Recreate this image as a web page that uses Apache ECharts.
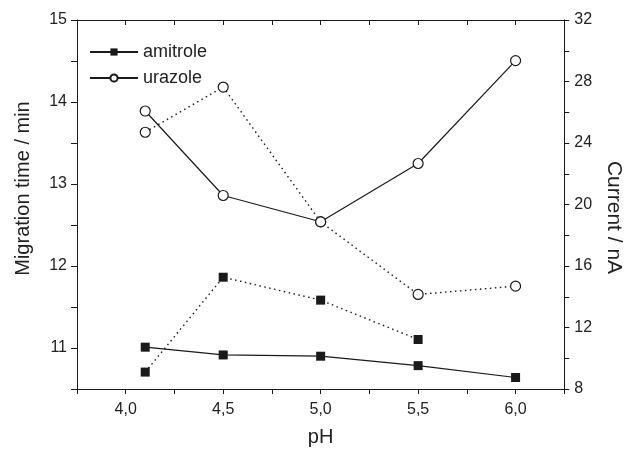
<!DOCTYPE html>
<html lang="en">
<head>
    <meta charset="UTF-8">
    <title>pH</title>
    <script src="https://cdn.jsdelivr.net/npm/echarts@6/dist/echarts.min.js"></script>
</head>
<body style="margin:0">
    <div id="main" style="width:632px;height:452px;"></div>
</body>
<script>

    // pH values
    var phList = [4.1, 4.5, 5.0, 5.5, 6.0];
    // migration time / min (solid lines, left axis)
    var amitroleTime = [11.01, 10.915, 10.90, 10.785, 10.64];
    var urazoleTime = [13.89, 12.86, 12.54, 13.25, 14.505];
    // current / nA (dotted lines, right axis)
    var amitroleCurrent = [9.1, 15.27, 13.78, 11.22];
    var urazoleCurrent = [24.7, 27.64, 18.87, 14.15, 14.69];

    function pairs(ys) {
        var out = [];
        for (var i = 0; i < ys.length; i++) {
            out.push([phList[i], ys[i]]);
        }
        return out;
    }

    function isStep(v, s) {
        return Math.abs(v / s - Math.round(v / s)) < 1e-6;
    }

    var ink = '#1a1a1a';
    var txt = '#222';
    var font = 'Liberation Sans, Arial, sans-serif';

    var myChart = echarts.init(document.getElementById('main'));

    var option = {
        animation: false,
        backgroundColor: '#fff',
        textStyle: {fontFamily: font, color: txt},
        grid: {left: 77, right: 58, top: 20, bottom: 61},
        legend: {
            data: ['amitrole', 'urazole'],
            orient: 'vertical',
            left: 84,
            top: 38,
            itemWidth: 48,
            itemHeight: 9,
            itemGap: 8,
            textStyle: {fontSize: 18, color: txt, fontFamily: font}
        },
        xAxis: [
            {
                type: 'value',
                min: 3.75,
                max: 6.25,
                interval: 0.25,
                name: 'pH',
                nameLocation: 'middle',
                nameGap: 38,
                nameTextStyle: {fontSize: 20, color: txt},
                splitLine: {show: false},
                axisLine: {lineStyle: {color: ink, width: 1}},
                axisTick: {length: 5, lineStyle: {color: ink}},
                axisLabel: {
                    fontSize: 16,
                    color: txt,
                    margin: 13,
                    formatter: function (v) {
                        return isStep(v, 0.5) ? v.toFixed(1).replace('.', ',') : '';
                    }
                }
            },
            {
                type: 'value',
                position: 'top',
                min: 3.75,
                max: 6.25,
                interval: 0.25,
                splitLine: {show: false},
                axisLine: {lineStyle: {color: ink, width: 1}},
                axisTick: {inside: true, length: 5, lineStyle: {color: ink}},
                axisLabel: {show: false}
            }
        ],
        yAxis: [
            {
                type: 'value',
                min: 10.5,
                max: 15,
                interval: 0.5,
                name: 'Migration time / min',
                nameLocation: 'middle',
                nameGap: 44,
                nameTextStyle: {fontSize: 20, color: txt, padding: [0, 0, 0, 32]},
                splitLine: {show: false},
                axisLine: {show: true, lineStyle: {color: ink, width: 1}},
                axisTick: {length: 6, lineStyle: {color: ink}},
                axisLabel: {
                    fontSize: 16,
                    color: txt,
                    margin: 10,
                    formatter: function (v) {
                        return isStep(v, 1) ? String(v) : '';
                    }
                }
            },
            {
                type: 'value',
                position: 'right',
                min: 8,
                max: 32,
                interval: 2,
                name: 'Current / nA',
                nameLocation: 'middle',
                nameRotate: -90,
                nameGap: 38,
                nameTextStyle: {fontSize: 21, color: txt, padding: [0, 0, 0, 26]},
                splitLine: {show: false},
                axisLine: {show: true, lineStyle: {color: ink, width: 1}},
                axisTick: {length: 5, lineStyle: {color: ink}},
                axisLabel: {
                    fontSize: 16,
                    color: txt,
                    margin: 10,
                    formatter: function (v) {
                        return isStep(v, 4) ? String(v) : '';
                    }
                }
            }
        ],
        series: [
            {
                name: 'amitrole',
                type: 'line',
                yAxisIndex: 0,
                data: pairs(amitroleTime),
                symbol: 'rect',
                symbolSize: 9,
                itemStyle: {color: ink},
                lineStyle: {color: ink, width: 1.2}
            },
            {
                name: 'urazole',
                type: 'line',
                yAxisIndex: 0,
                data: pairs(urazoleTime),
                symbol: 'circle',
                symbolSize: 10,
                itemStyle: {color: '#fff', borderColor: ink, borderWidth: 1.2},
                lineStyle: {color: ink, width: 1.2}
            },
            {
                name: 'amitrole current',
                type: 'line',
                yAxisIndex: 1,
                data: pairs(amitroleCurrent),
                symbol: 'rect',
                symbolSize: 9,
                itemStyle: {color: ink},
                lineStyle: {color: ink, width: 1.4, type: [1.5, 3.5]}
            },
            {
                name: 'urazole current',
                type: 'line',
                yAxisIndex: 1,
                data: pairs(urazoleCurrent),
                symbol: 'circle',
                symbolSize: 10,
                itemStyle: {color: '#fff', borderColor: ink, borderWidth: 1.2},
                lineStyle: {color: ink, width: 1.4, type: [1.5, 3.5]}
            }
        ]
    };

    myChart.setOption(option);

</script>
</html>
